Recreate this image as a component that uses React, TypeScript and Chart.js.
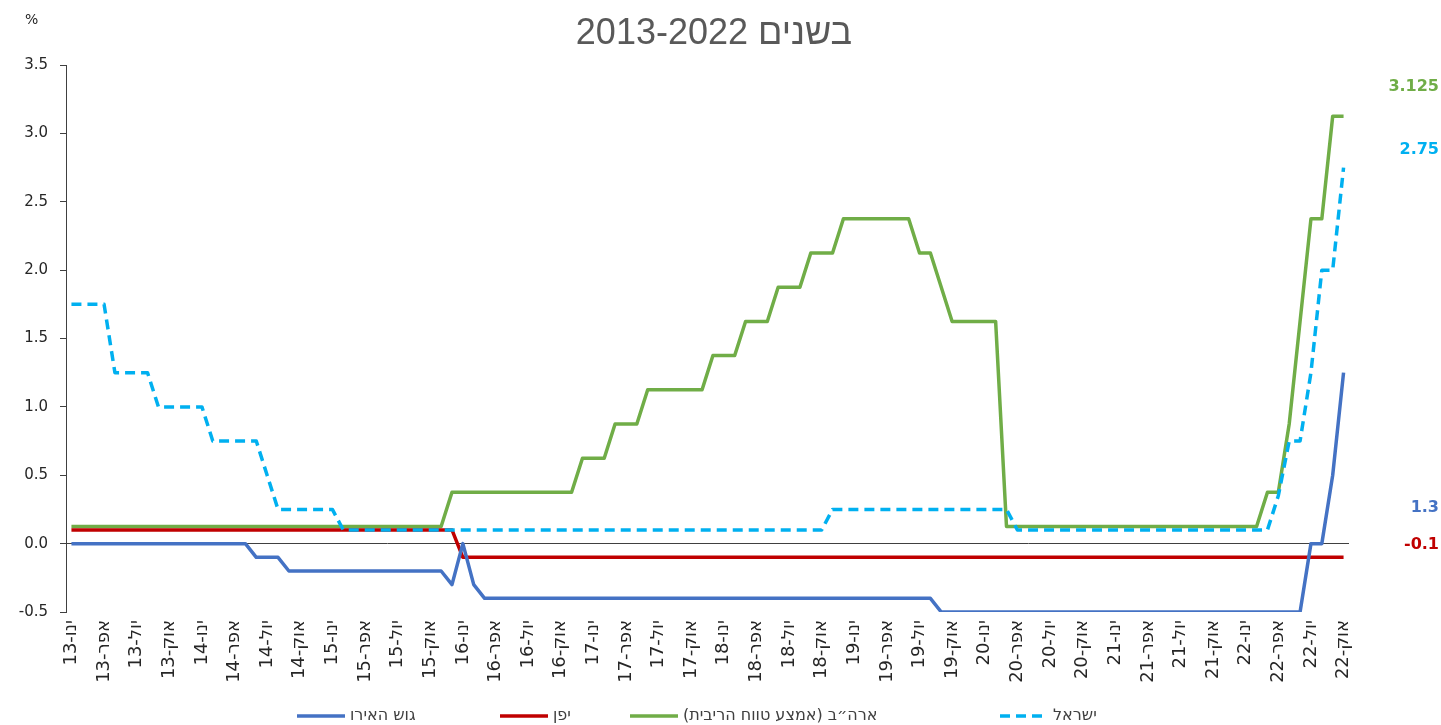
import React, { useEffect, useRef } from "react";
import { Chart, registerables } from "chart.js";

Chart.register(...registerables);

// ---------- data ----------
const MONTH_NAMES = ["ינו", "פבר", "מרץ", "אפר", "מאי", "יונ", "יול", "אוג", "ספט", "אוק", "נוב", "דצמ"];
const YEARS = ["13", "14", "15", "16", "17", "18", "19", "20", "21", "22"];
const LAST_MONTH_INDEX_2022 = 9; // October 2022

const CATEGORIES: string[] = [];
YEARS.forEach((yr, yi) => {
  MONTH_NAMES.forEach((m, mi) => {
    if (yi === YEARS.length - 1 && mi > LAST_MONTH_INDEX_2022) return;
    CATEGORIES.push(`${m}-${yr}`);
  });
});

const TITLE = "בשנים 2013-2022";
const UNIT_LABEL = "%";

const SERIES_LABELS = ["גוש האירו", "יפן", "ארה״ב (אמצע טווח הריבית)", "ישראל"];

// monthly, Jan 2013 .. Oct 2022
const EURO = [
  0, 0, 0, 0, 0, 0, 0, 0, 0, 0, 0, 0,
  0, 0, 0, 0, 0, -0.1, -0.1, -0.1, -0.2, -0.2, -0.2, -0.2,
  -0.2, -0.2, -0.2, -0.2, -0.2, -0.2, -0.2, -0.2, -0.2, -0.2, -0.2, -0.3,
  0, -0.3, -0.4, -0.4, -0.4, -0.4, -0.4, -0.4, -0.4, -0.4, -0.4, -0.4,
  -0.4, -0.4, -0.4, -0.4, -0.4, -0.4, -0.4, -0.4, -0.4, -0.4, -0.4, -0.4,
  -0.4, -0.4, -0.4, -0.4, -0.4, -0.4, -0.4, -0.4, -0.4, -0.4, -0.4, -0.4,
  -0.4, -0.4, -0.4, -0.4, -0.4, -0.4, -0.4, -0.4, -0.5, -0.5, -0.5, -0.5,
  -0.5, -0.5, -0.5, -0.5, -0.5, -0.5, -0.5, -0.5, -0.5, -0.5, -0.5, -0.5,
  -0.5, -0.5, -0.5, -0.5, -0.5, -0.5, -0.5, -0.5, -0.5, -0.5, -0.5, -0.5,
  -0.5, -0.5, -0.5, -0.5, -0.5, -0.5, 0, 0, 0.5, 1.25,
];

const JAPAN = [
  0.1, 0.1, 0.1, 0.1, 0.1, 0.1, 0.1, 0.1, 0.1, 0.1, 0.1, 0.1,
  0.1, 0.1, 0.1, 0.1, 0.1, 0.1, 0.1, 0.1, 0.1, 0.1, 0.1, 0.1,
  0.1, 0.1, 0.1, 0.1, 0.1, 0.1, 0.1, 0.1, 0.1, 0.1, 0.1, 0.1,
  -0.1, -0.1, -0.1, -0.1, -0.1, -0.1, -0.1, -0.1, -0.1, -0.1, -0.1, -0.1,
  -0.1, -0.1, -0.1, -0.1, -0.1, -0.1, -0.1, -0.1, -0.1, -0.1, -0.1, -0.1,
  -0.1, -0.1, -0.1, -0.1, -0.1, -0.1, -0.1, -0.1, -0.1, -0.1, -0.1, -0.1,
  -0.1, -0.1, -0.1, -0.1, -0.1, -0.1, -0.1, -0.1, -0.1, -0.1, -0.1, -0.1,
  -0.1, -0.1, -0.1, -0.1, -0.1, -0.1, -0.1, -0.1, -0.1, -0.1, -0.1, -0.1,
  -0.1, -0.1, -0.1, -0.1, -0.1, -0.1, -0.1, -0.1, -0.1, -0.1, -0.1, -0.1,
  -0.1, -0.1, -0.1, -0.1, -0.1, -0.1, -0.1, -0.1, -0.1, -0.1,
];

const USA = [
  0.125, 0.125, 0.125, 0.125, 0.125, 0.125, 0.125, 0.125, 0.125, 0.125, 0.125, 0.125,
  0.125, 0.125, 0.125, 0.125, 0.125, 0.125, 0.125, 0.125, 0.125, 0.125, 0.125, 0.125,
  0.125, 0.125, 0.125, 0.125, 0.125, 0.125, 0.125, 0.125, 0.125, 0.125, 0.125, 0.375,
  0.375, 0.375, 0.375, 0.375, 0.375, 0.375, 0.375, 0.375, 0.375, 0.375, 0.375, 0.625,
  0.625, 0.625, 0.875, 0.875, 0.875, 1.125, 1.125, 1.125, 1.125, 1.125, 1.125, 1.375,
  1.375, 1.375, 1.625, 1.625, 1.625, 1.875, 1.875, 1.875, 2.125, 2.125, 2.125, 2.375,
  2.375, 2.375, 2.375, 2.375, 2.375, 2.375, 2.125, 2.125, 1.875, 1.625, 1.625, 1.625,
  1.625, 1.625, 0.125, 0.125, 0.125, 0.125, 0.125, 0.125, 0.125, 0.125, 0.125, 0.125,
  0.125, 0.125, 0.125, 0.125, 0.125, 0.125, 0.125, 0.125, 0.125, 0.125, 0.125, 0.125,
  0.125, 0.125, 0.375, 0.375, 0.875, 1.625, 2.375, 2.375, 3.125, 3.125,
];

const ISRAEL = [
  1.75, 1.75, 1.75, 1.75, 1.25, 1.25, 1.25, 1.25, 1.0, 1.0, 1.0, 1.0,
  1.0, 0.75, 0.75, 0.75, 0.75, 0.75, 0.5, 0.25, 0.25, 0.25, 0.25, 0.25,
  0.25, 0.1, 0.1, 0.1, 0.1, 0.1, 0.1, 0.1, 0.1, 0.1, 0.1, 0.1,
  0.1, 0.1, 0.1, 0.1, 0.1, 0.1, 0.1, 0.1, 0.1, 0.1, 0.1, 0.1,
  0.1, 0.1, 0.1, 0.1, 0.1, 0.1, 0.1, 0.1, 0.1, 0.1, 0.1, 0.1,
  0.1, 0.1, 0.1, 0.1, 0.1, 0.1, 0.1, 0.1, 0.1, 0.1, 0.25, 0.25,
  0.25, 0.25, 0.25, 0.25, 0.25, 0.25, 0.25, 0.25, 0.25, 0.25, 0.25, 0.25,
  0.25, 0.25, 0.25, 0.1, 0.1, 0.1, 0.1, 0.1, 0.1, 0.1, 0.1, 0.1,
  0.1, 0.1, 0.1, 0.1, 0.1, 0.1, 0.1, 0.1, 0.1, 0.1, 0.1, 0.1,
  0.1, 0.1, 0.1, 0.35, 0.75, 0.75, 1.25, 2.0, 2.0, 2.75,
];

// end-of-period value labels (text, colour, vertical anchor in axis units)
const END_LABEL_TEXTS = ["3.125", "2.75", "1.3", "-0.1"];
const END_LABEL_COLORS = ["#70AD47", "#00B0F0", "#4472C4", "#C00000"];
const END_LABEL_ANCHORS = [3.34, 2.88, 0.26, -0.01];

const Y_MIN = -0.5;
const Y_MAX = 3.5;
const Y_STEP = 0.5;

// ---------- styles / layout ----------
const COLORS = { euro: "#4472C4", japan: "#C00000", usa: "#70AD47", israel: "#00B0F0" };
const LINE_WIDTH = 3.5;
const TEXT_COLOR = "#404040";
const FONT = "'DejaVu Sans', Verdana, sans-serif";
const LEGEND_X = [297, 500, 630, 1000];
const LEGEND_Y = 716;

const overlayPlugin = {
  id: "overlay",
  afterDraw(chart: any) {
    const { ctx } = chart;
    const y = chart.scales.y;
    ctx.save();

    // title
    ctx.fillStyle = "#595959";
    ctx.font = "36px 'Liberation Sans', Arial, sans-serif";
    ctx.textAlign = "center";
    ctx.textBaseline = "alphabetic";
    ctx.direction = "rtl";
    ctx.fillText(TITLE, 714, 44);

    // unit
    ctx.direction = "ltr";
    ctx.fillStyle = "#262626";
    ctx.font = `14px ${FONT}`;
    ctx.textAlign = "left";
    ctx.fillText(UNIT_LABEL, 25, 24);

    // end labels
    ctx.font = `bold 16px ${FONT}`;
    ctx.textAlign = "right";
    ctx.textBaseline = "middle";
    END_LABEL_TEXTS.forEach((t, i) => {
      ctx.fillStyle = END_LABEL_COLORS[i];
      ctx.fillText(t, 1439, y.getPixelForValue(END_LABEL_ANCHORS[i]));
    });

    // legend
    chart.data.datasets.forEach((ds: any, i: number) => {
      const x0 = LEGEND_X[i];
      ctx.beginPath();
      ctx.strokeStyle = ds.borderColor;
      ctx.lineWidth = LINE_WIDTH;
      ctx.lineCap = "butt";
      ctx.setLineDash(ds.borderDash || []);
      ctx.moveTo(x0, LEGEND_Y);
      ctx.lineTo(x0 + 48, LEGEND_Y);
      ctx.stroke();
      ctx.setLineDash([]);
      ctx.fillStyle = TEXT_COLOR;
      ctx.font = `16px ${FONT}`;
      ctx.direction = "rtl";
      ctx.textAlign = "left";
      ctx.textBaseline = "middle";
      ctx.fillText(ds.label, x0 + 53, LEGEND_Y);
    });
    ctx.restore();
  },
};

export default function App() {
  const canvasRef = useRef<HTMLCanvasElement | null>(null);

  useEffect(() => {
    document.body.style.margin = "0";
    const canvas = canvasRef.current;
    if (!canvas) return;
    const chart = new Chart(canvas, {
      type: "line",
      data: {
        labels: CATEGORIES,
        datasets: [
          { label: SERIES_LABELS[0], data: EURO, borderColor: COLORS.euro, backgroundColor: COLORS.euro, order: 1 },
          { label: SERIES_LABELS[1], data: JAPAN, borderColor: COLORS.japan, backgroundColor: COLORS.japan, order: 2 },
          { label: SERIES_LABELS[2], data: USA, borderColor: COLORS.usa, backgroundColor: COLORS.usa, order: 3 },
          {
            label: SERIES_LABELS[3], data: ISRAEL, borderColor: COLORS.israel, backgroundColor: COLORS.israel,
            borderDash: [10, 6], order: 0,
          },
        ],
      },
      options: {
        animation: false,
        responsive: false,
        devicePixelRatio: 1,
        layout: { padding: { top: 65, left: 8, right: 92, bottom: 33 } },
        elements: {
          point: { radius: 0, hoverRadius: 0 },
          line: { borderWidth: LINE_WIDTH, tension: 0, borderJoinStyle: "round", borderCapStyle: "butt" },
        },
        plugins: {
          legend: { display: false },
          title: { display: false },
          tooltip: { enabled: false },
        },
        scales: {
          x: {
            type: "category",
            offset: true,
            grid: { display: false, drawTicks: false },
            border: { display: false },
            afterFit: (scale: any) => { scale.height = 80; },
            ticks: {
              autoSkip: false,
              minRotation: 90,
              maxRotation: 90,
              padding: 8,
              color: "#262626",
              font: { family: FONT, size: 18 },
              callback: (_v: any, idx: number) => (idx % 3 === 0 ? CATEGORIES[idx] : ""),
            },
          },
          y: {
            min: Y_MIN,
            max: Y_MAX,
            afterFit: (scale: any) => { scale.width = 58; },
            border: { display: true, color: TEXT_COLOR, width: 1 },
            grid: {
              color: (c: any) => (c.tick && c.tick.value === 0 ? TEXT_COLOR : "rgba(0,0,0,0)"),
              tickColor: TEXT_COLOR,
              tickLength: 6,
              lineWidth: 1,
            },
            ticks: {
              stepSize: Y_STEP,
              padding: 12,
              color: "#262626",
              font: { family: FONT, size: 15 },
              callback: (v: any) => Number(v).toFixed(1),
            },
          },
        },
      },
      plugins: [overlayPlugin],
    });
    return () => chart.destroy();
  }, []);

  return (
    <div style={{ position: "fixed", left: 0, top: 0, width: 1441, height: 725, background: "#fff" }}>
      <canvas ref={canvasRef} width={1441} height={725} style={{ width: 1441, height: 725, display: "block" }} />
    </div>
  );
}
